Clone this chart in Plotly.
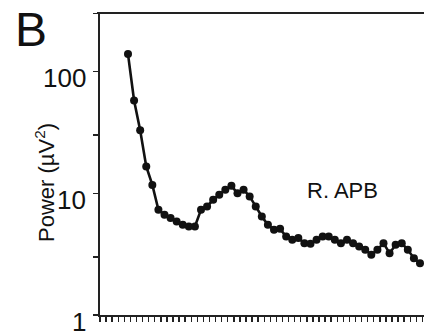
import math
import plotly.graph_objects as go

# Frequency index (Hz, 1-step) and power values (µV²)
freq = list(range(1, 50))
power = [138.8, 57.7, 32.9, 16.6, 11.7, 7.31, 6.65, 6.25, 5.86, 5.51,
         5.33, 5.33, 7.31, 7.79, 8.84, 9.72, 10.7, 11.5, 10.0, 10.7,
         9.41, 7.79, 6.44, 5.51, 5.01, 5.10, 4.41, 4.14, 4.28, 3.89,
         3.84, 4.14, 4.41, 4.41, 4.14, 3.89, 4.14, 3.89, 3.65, 3.43,
         3.12, 3.43, 3.89, 3.22, 3.77, 3.89, 3.43, 2.93, 2.66]

y_tick_vals = [1, 3, 10, 30, 100, 300]
y_label_vals = [1, 10, 100]
y_label_text = ["1", "10", "100"]

FONT = "Liberation Sans, Arial, Helvetica, sans-serif"
INK = "#111111"

# plot area in page pixels
L, R, T, B = 100, 424, 13, 315
PW, PH = R - L, B - T


def px(xp):
    return (xp - L) / PW


def py(yp):
    return (B - yp) / PH


fig = go.Figure()
fig.add_trace(go.Scatter(
    x=freq, y=power, mode="lines+markers",
    line=dict(color=INK, width=2.6),
    marker=dict(color=INK, size=8, symbol="circle"),
    showlegend=False, hoverinfo="skip", cliponaxis=False,
))

step_px = 6.083
x_lo = freq[0] - 28 / step_px
x_hi = freq[0] + (R - 128) / step_px

fig.update_layout(
    width=424, height=331,
    margin=dict(l=L, r=424 - R, t=T, b=331 - B),
    paper_bgcolor="white", plot_bgcolor="white",
    font=dict(family=FONT, color=INK),
    xaxis=dict(
        range=[x_lo, x_hi], showgrid=False, zeroline=False,
        showline=True, linecolor="#222222", linewidth=1.8,
        ticks="outside", ticklen=5, tickwidth=1.4, tickcolor="#222222",
        tick0=x_lo, dtick=1, showticklabels=False,
    ),
    yaxis=dict(
        type="log", range=[0, 2.48], showgrid=False, zeroline=False,
        showline=True, linecolor="#222222", linewidth=1.8,
        ticks="outside", ticklen=5, tickwidth=1.4, tickcolor="#222222",
        tickmode="array", tickvals=y_tick_vals, showticklabels=False,
    ),
)

# top frame line
fig.add_shape(type="line", xref="paper", yref="paper", x0=px(97), x1=1.0, y0=1, y1=1,
              line=dict(color="#222222", width=1.8))

# y tick labels (slightly below their ticks, as in the reference)
for v, t in zip(y_label_vals, y_label_text):
    fig.add_annotation(x=0, xref="paper", y=math.log10(v), yref="y",
                       text=t, showarrow=False, xanchor="right", yanchor="middle",
                       xshift=-12, yshift=-7, font=dict(size=26, family=FONT, color=INK))

# y axis title
fig.add_annotation(x=px(45), xref="paper", y=py(183), yref="paper",
                   text="Power (µV<sup>2</sup>)", showarrow=False, textangle=-90,
                   xanchor="center", yanchor="middle",
                   font=dict(size=22, family=FONT, color=INK))

# panel letter
fig.add_annotation(x=px(31), xref="paper", y=py(30), yref="paper",
                   text="B", showarrow=False, xanchor="center", yanchor="middle",
                   font=dict(size=48, family=FONT, color=INK))

# muscle label
fig.add_annotation(x=px(342), xref="paper", y=py(190), yref="paper",
                   text="R. APB", showarrow=False, xanchor="center", yanchor="middle",
                   font=dict(size=22, family=FONT, color=INK))

fig.write_html(
    "out.html",
    config={"displayModeBar": False, "staticPlot": True},
    post_script="document.body.style.margin='0';document.body.style.overflow='hidden';"
                "document.documentElement.style.overflow='hidden';",
)
